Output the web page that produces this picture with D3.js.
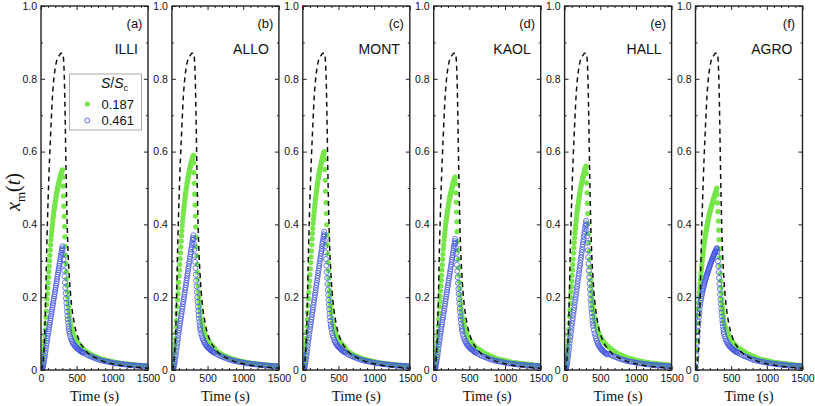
<!DOCTYPE html>
<html><head><meta charset="utf-8">
<script src="https://cdn.jsdelivr.net/npm/d3@7"></script>
<style>body{margin:0;background:#fff}</style>
</head><body><svg id="chart" width="815" height="406"></svg>
<script>
// ---------- DATA ----------
const panelLabels = ["(a)","(b)","(c)","(d)","(e)","(f)"];
const materials = ["ILLI","ALLO","MONT","KAOL","HALL","AGRO"];
const legendLabels = ["0.187","0.461"];
const yTicks = [0,0.2,0.4,0.6,0.8,1.0];
const yTickLabels = ["0","0.2","0.4","0.6","0.8","1.0"];
const yMinorTicks = [0.1,0.3,0.5,0.7,0.9];
const xTicks = [0,500,1000,1500];
const xTickLabels = ["0","500","1000","1500"];
const xMinorTicks = [100,200,300,400,600,700,800,900,1100,1200,1300,1400];

const timeS = [0,5,10,15,20,25,30,35,40,45,50,55,60,65,70,75,80,85,90,95,
100,105,110,115,120,125,130,135,140,145,150,155,160,165,170,175,180,185,190,195,
200,205,210,215,220,225,230,235,240,245,250,255,260,265,270,275,280,285,290,295,
300,305,310,315,320,325,330,335,340,345,350,355,360,365,370,375,380,385,390,395,
400,410,420,430,440,450,460,470,480,490,500,510,520,530,540,550,560,570,580,590,600,
625,650,675,700,725,750,775,800,825,850,875,900,925,950,975,1000,1025,1050,1075,1100,
1125,1150,1175,1200,1225,1250,1275,1300,1325,1350,1375,1400,1425,1450,1475,1500];

// dashed reference curve (same in every panel)
const dashTime = [0,20,40,60,80,100,120,140,160,180,200,220,240,260,280,300,310,320,330,340,350,360,370,380,390,400,420,440,460,480,500,550,600,650,700,800,900,1000,1100,1200,1300,1400,1500];
const dashValue = [0,0.01,0.05,0.15,0.33,0.47,0.58,0.67,0.75,0.80,0.83,0.85,0.86,0.865,0.87,0.87,0.865,0.84,0.78,0.68,0.56,0.46,0.38,0.32,0.28,0.245,0.195,0.16,0.135,0.115,0.10,0.075,0.06,0.048,0.04,0.03,0.022,0.017,0.013,0.01,0.008,0.006,0.005];

// S/Sc = 0.187 (filled green)
const greenILLI = [0.000,0.001,0.004,0.007,0.012,0.020,0.030,0.042,0.055,0.067,0.080,0.095,0.110,0.127,0.145,0.162,0.180,0.195,0.210,0.225,
0.240,0.255,0.270,0.285,0.300,0.315,0.330,0.344,0.357,0.369,0.380,0.390,0.400,0.409,0.418,0.426,0.434,0.441,0.448,0.455,
0.462,0.468,0.474,0.480,0.486,0.491,0.496,0.501,0.505,0.510,0.514,0.518,0.522,0.526,0.530,0.534,0.537,0.541,0.544,0.547,0.550,
0.530,0.505,0.478,0.450,0.422,0.394,0.366,0.340,0.315,0.292,0.270,0.250,0.232,0.215,0.200,0.187,0.175,0.164,0.154,0.145,
0.134,0.124,0.115,0.107,0.100,0.095,0.090,0.086,0.083,0.080,0.077,0.074,0.071,0.068,0.066,0.064,0.062,0.060,0.058,0.056,
0.052,0.049,0.046,0.043,0.040,0.038,0.036,0.034,0.032,0.030,0.029,0.027,0.026,0.025,0.024,0.023,0.022,0.021,0.020,0.019,
0.018,0.018,0.017,0.016,0.016,0.015,0.015,0.014,0.014,0.013,0.013,0.012,0.012,0.012,0.011,0.011];
const greenALLO = [0.000,0.001,0.004,0.008,0.013,0.021,0.032,0.045,0.059,0.072,0.086,0.102,0.118,0.136,0.156,0.174,0.193,0.209,0.225,0.241,
0.258,0.274,0.290,0.306,0.322,0.338,0.354,0.369,0.383,0.396,0.408,0.418,0.429,0.439,0.449,0.457,0.466,0.473,0.481,0.488,
0.496,0.502,0.509,0.515,0.521,0.527,0.532,0.538,0.542,0.547,0.552,0.556,0.560,0.564,0.569,0.573,0.576,0.580,0.584,0.587,0.590,
0.569,0.542,0.513,0.483,0.453,0.423,0.393,0.365,0.338,0.313,0.290,0.268,0.249,0.231,0.215,0.201,0.188,0.176,0.165,0.156,
0.141,0.130,0.121,0.112,0.105,0.100,0.095,0.090,0.087,0.084,0.081,0.078,0.075,0.071,0.069,0.067,0.065,0.063,0.061,0.059,
0.052,0.049,0.046,0.043,0.040,0.038,0.036,0.034,0.032,0.030,0.029,0.027,0.026,0.025,0.024,0.023,0.022,0.021,0.020,0.019,
0.018,0.018,0.017,0.016,0.016,0.015,0.015,0.014,0.014,0.013,0.013,0.012,0.012,0.012,0.011,0.011];
const greenMONT = [0.000,0.001,0.004,0.008,0.013,0.022,0.033,0.046,0.060,0.073,0.087,0.104,0.120,0.139,0.158,0.177,0.196,0.213,0.229,0.245,
0.262,0.278,0.295,0.311,0.327,0.344,0.360,0.375,0.389,0.403,0.415,0.425,0.436,0.446,0.456,0.465,0.473,0.481,0.489,0.496,
0.504,0.511,0.517,0.524,0.530,0.536,0.541,0.547,0.551,0.556,0.561,0.565,0.570,0.574,0.578,0.583,0.586,0.590,0.593,0.597,0.600,
0.578,0.551,0.521,0.491,0.460,0.430,0.399,0.371,0.344,0.319,0.295,0.273,0.253,0.235,0.218,0.204,0.191,0.179,0.168,0.158,
0.142,0.131,0.122,0.113,0.106,0.101,0.095,0.091,0.088,0.085,0.082,0.078,0.075,0.072,0.070,0.068,0.066,0.064,0.061,0.059,
0.052,0.049,0.046,0.043,0.040,0.038,0.036,0.034,0.032,0.030,0.029,0.027,0.026,0.025,0.024,0.023,0.022,0.021,0.020,0.019,
0.018,0.018,0.017,0.016,0.016,0.015,0.015,0.014,0.014,0.013,0.013,0.012,0.012,0.012,0.011,0.011];
const greenKAOL = [0.000,0.001,0.004,0.007,0.012,0.019,0.029,0.040,0.053,0.065,0.077,0.092,0.106,0.122,0.140,0.156,0.174,0.188,0.202,0.217,
0.231,0.246,0.260,0.275,0.289,0.304,0.318,0.332,0.344,0.356,0.366,0.376,0.386,0.394,0.403,0.411,0.418,0.425,0.432,0.439,
0.445,0.451,0.457,0.463,0.469,0.473,0.478,0.483,0.487,0.492,0.496,0.499,0.503,0.507,0.511,0.515,0.518,0.522,0.524,0.527,0.530,
0.511,0.487,0.461,0.434,0.407,0.380,0.353,0.328,0.304,0.281,0.260,0.241,0.224,0.207,0.193,0.180,0.169,0.158,0.148,0.140,
0.141,0.130,0.121,0.112,0.105,0.100,0.095,0.090,0.087,0.084,0.081,0.078,0.075,0.071,0.069,0.067,0.065,0.063,0.061,0.059,
0.058,0.055,0.052,0.048,0.045,0.043,0.040,0.038,0.036,0.034,0.032,0.030,0.029,0.028,0.027,0.026,0.025,0.024,0.022,0.021,
0.020,0.020,0.019,0.018,0.018,0.017,0.017,0.016,0.016,0.015,0.015,0.013,0.013,0.013,0.012,0.012];
const greenHALL = [0.000,0.001,0.004,0.007,0.012,0.020,0.031,0.043,0.056,0.068,0.081,0.097,0.112,0.129,0.148,0.165,0.183,0.199,0.214,0.229,
0.244,0.260,0.275,0.290,0.305,0.321,0.336,0.350,0.363,0.376,0.387,0.397,0.407,0.416,0.426,0.434,0.442,0.449,0.456,0.463,
0.470,0.476,0.483,0.489,0.495,0.500,0.505,0.510,0.514,0.519,0.523,0.527,0.531,0.535,0.540,0.544,0.547,0.551,0.554,0.557,0.560,
0.540,0.514,0.487,0.458,0.430,0.402,0.375,0.350,0.326,0.304,0.283,0.264,0.247,0.231,0.217,0.204,0.192,0.181,0.171,0.162,
0.150,0.140,0.131,0.123,0.116,0.110,0.105,0.100,0.096,0.092,0.088,0.085,0.082,0.079,0.076,0.074,0.072,0.070,0.068,0.066,
0.062,0.058,0.054,0.051,0.048,0.045,0.042,0.040,0.038,0.036,0.034,0.032,0.031,0.030,0.028,0.027,0.026,0.025,0.024,0.023,
0.022,0.021,0.020,0.019,0.019,0.018,0.018,0.017,0.017,0.016,0.015,0.015,0.014,0.014,0.013,0.013];
const greenAGRO = [0.000,0.010,0.030,0.055,0.080,0.105,0.128,0.150,0.168,0.185,0.200,0.213,0.225,0.237,0.248,0.259,0.270,0.280,0.290,0.300,
0.309,0.318,0.327,0.335,0.343,0.350,0.357,0.364,0.371,0.377,0.383,0.389,0.395,0.400,0.405,0.410,0.415,0.420,0.424,0.428,
0.432,0.436,0.440,0.444,0.448,0.451,0.455,0.458,0.462,0.465,0.468,0.471,0.474,0.477,0.480,0.483,0.486,0.489,0.492,0.496,0.500,
0.482,0.459,0.435,0.409,0.384,0.358,0.333,0.309,0.286,0.265,0.245,0.227,0.211,0.195,0.182,0.170,0.159,0.149,0.140,0.132,
0.125,0.118,0.112,0.106,0.101,0.097,0.093,0.089,0.086,0.083,0.080,0.077,0.074,0.071,0.069,0.067,0.065,0.063,0.061,0.059,
0.058,0.055,0.052,0.048,0.045,0.043,0.040,0.038,0.036,0.034,0.032,0.030,0.029,0.028,0.027,0.026,0.025,0.024,0.022,0.021,
0.020,0.020,0.019,0.018,0.018,0.017,0.017,0.016,0.016,0.015,0.015,0.013,0.013,0.013,0.012,0.012];

// S/Sc = 0.461 (open blue)
const blueILLI = [0.000,0.000,0.001,0.002,0.004,0.007,0.011,0.016,0.021,0.027,0.033,0.039,0.046,0.053,0.060,0.067,0.074,0.080,0.087,0.094,
0.100,0.106,0.112,0.118,0.124,0.130,0.136,0.142,0.148,0.154,0.160,0.166,0.172,0.178,0.184,0.190,0.196,0.202,0.208,0.214,
0.220,0.226,0.232,0.238,0.244,0.250,0.256,0.262,0.268,0.274,0.280,0.286,0.292,0.298,0.304,0.310,0.316,0.322,0.328,0.334,0.340,
0.330,0.318,0.304,0.289,0.273,0.257,0.241,0.226,0.211,0.197,0.184,0.172,0.160,0.149,0.139,0.130,0.121,0.113,0.106,0.100,
0.092,0.086,0.081,0.077,0.073,0.070,0.067,0.065,0.063,0.061,0.059,0.057,0.056,0.054,0.053,0.051,0.050,0.049,0.048,0.047,
0.044,0.041,0.039,0.037,0.035,0.033,0.031,0.029,0.028,0.026,0.025,0.024,0.023,0.022,0.021,0.020,0.019,0.018,0.018,0.017,
0.016,0.016,0.015,0.015,0.014,0.014,0.013,0.013,0.012,0.012,0.012,0.011,0.011,0.011,0.010,0.010];
const blueALLO = [0.000,0.000,0.001,0.002,0.004,0.008,0.012,0.017,0.023,0.029,0.036,0.042,0.050,0.058,0.065,0.073,0.081,0.087,0.095,0.102,
0.109,0.115,0.122,0.128,0.135,0.141,0.148,0.154,0.161,0.168,0.174,0.181,0.187,0.194,0.200,0.207,0.213,0.220,0.226,0.233,
0.239,0.246,0.252,0.259,0.265,0.272,0.279,0.285,0.292,0.298,0.305,0.311,0.318,0.324,0.331,0.337,0.344,0.350,0.357,0.363,0.370,
0.359,0.346,0.331,0.314,0.297,0.280,0.262,0.246,0.230,0.214,0.200,0.187,0.174,0.162,0.151,0.141,0.132,0.123,0.115,0.109,
0.100,0.093,0.087,0.082,0.077,0.074,0.070,0.068,0.065,0.063,0.061,0.059,0.057,0.055,0.054,0.052,0.051,0.049,0.048,0.047,
0.044,0.041,0.039,0.037,0.035,0.033,0.031,0.029,0.028,0.026,0.025,0.024,0.023,0.022,0.021,0.020,0.019,0.018,0.018,0.017,
0.016,0.016,0.015,0.015,0.014,0.014,0.013,0.013,0.012,0.012,0.012,0.011,0.011,0.011,0.010,0.010];
const blueMONT = [0.000,0.000,0.001,0.002,0.004,0.008,0.012,0.018,0.023,0.030,0.037,0.044,0.051,0.059,0.067,0.075,0.083,0.089,0.097,0.105,
0.112,0.119,0.125,0.132,0.139,0.145,0.152,0.159,0.165,0.172,0.179,0.186,0.192,0.199,0.206,0.212,0.219,0.226,0.233,0.239,
0.246,0.253,0.259,0.266,0.273,0.280,0.286,0.293,0.300,0.306,0.313,0.320,0.326,0.333,0.340,0.347,0.353,0.360,0.367,0.373,0.380,
0.369,0.356,0.340,0.323,0.305,0.287,0.269,0.253,0.236,0.220,0.206,0.192,0.179,0.167,0.155,0.145,0.135,0.126,0.119,0.112,
0.102,0.095,0.089,0.083,0.078,0.075,0.071,0.068,0.066,0.064,0.062,0.060,0.058,0.056,0.054,0.053,0.051,0.050,0.049,0.048,
0.044,0.041,0.039,0.037,0.035,0.033,0.031,0.029,0.028,0.026,0.025,0.024,0.023,0.022,0.021,0.020,0.019,0.018,0.018,0.017,
0.016,0.016,0.015,0.015,0.014,0.014,0.013,0.013,0.012,0.012,0.012,0.011,0.011,0.011,0.010,0.010];
const blueKAOL = [0.000,0.000,0.001,0.002,0.004,0.007,0.012,0.017,0.022,0.029,0.035,0.041,0.049,0.056,0.064,0.071,0.078,0.085,0.092,0.100,
0.106,0.112,0.119,0.125,0.131,0.138,0.144,0.150,0.157,0.163,0.169,0.176,0.182,0.189,0.195,0.201,0.208,0.214,0.220,0.227,
0.233,0.239,0.246,0.252,0.258,0.265,0.271,0.277,0.284,0.290,0.297,0.303,0.309,0.316,0.322,0.328,0.335,0.341,0.347,0.354,0.360,
0.349,0.337,0.322,0.306,0.289,0.272,0.255,0.239,0.223,0.209,0.195,0.182,0.169,0.158,0.147,0.138,0.128,0.120,0.112,0.106,
0.097,0.090,0.085,0.080,0.076,0.072,0.069,0.067,0.065,0.062,0.060,0.058,0.057,0.055,0.054,0.052,0.051,0.049,0.048,0.047,
0.044,0.041,0.039,0.037,0.035,0.033,0.031,0.029,0.028,0.026,0.025,0.024,0.023,0.022,0.021,0.020,0.019,0.018,0.018,0.017,
0.016,0.016,0.015,0.015,0.014,0.014,0.013,0.013,0.012,0.012,0.012,0.011,0.011,0.011,0.010,0.010];
const blueHALL = [0.000,0.000,0.001,0.002,0.005,0.008,0.013,0.019,0.025,0.033,0.040,0.047,0.055,0.064,0.072,0.081,0.089,0.096,0.105,0.113,
0.121,0.128,0.135,0.142,0.150,0.157,0.164,0.171,0.178,0.186,0.193,0.200,0.207,0.215,0.222,0.229,0.236,0.244,0.251,0.258,
0.265,0.273,0.280,0.287,0.294,0.302,0.309,0.316,0.323,0.330,0.338,0.345,0.352,0.359,0.367,0.374,0.381,0.388,0.396,0.403,0.410,
0.398,0.384,0.367,0.349,0.329,0.310,0.291,0.273,0.254,0.238,0.222,0.207,0.193,0.180,0.168,0.157,0.146,0.136,0.128,0.121,
0.110,0.101,0.093,0.086,0.080,0.075,0.071,0.067,0.064,0.061,0.058,0.056,0.054,0.052,0.050,0.048,0.047,0.045,0.044,0.043,
0.044,0.041,0.039,0.037,0.035,0.033,0.031,0.029,0.028,0.026,0.025,0.024,0.023,0.022,0.021,0.020,0.019,0.018,0.018,0.017,
0.016,0.016,0.015,0.015,0.014,0.014,0.013,0.013,0.012,0.012,0.012,0.011,0.011,0.011,0.010,0.010];
const blueAGRO = [0.000,0.008,0.022,0.040,0.058,0.075,0.092,0.107,0.121,0.134,0.146,0.157,0.167,0.176,0.184,0.191,0.197,0.203,0.208,0.213,
0.218,0.222,0.226,0.230,0.234,0.238,0.242,0.245,0.249,0.252,0.256,0.259,0.262,0.265,0.268,0.271,0.274,0.277,0.280,0.283,
0.286,0.289,0.292,0.294,0.297,0.300,0.302,0.305,0.307,0.310,0.312,0.315,0.317,0.319,0.322,0.324,0.326,0.328,0.331,0.333,0.335,
0.325,0.313,0.299,0.285,0.269,0.253,0.237,0.223,0.208,0.194,0.181,0.169,0.158,0.147,0.137,0.128,0.119,0.111,0.104,0.099,
0.092,0.086,0.081,0.077,0.073,0.070,0.067,0.065,0.063,0.061,0.059,0.057,0.056,0.054,0.053,0.051,0.050,0.049,0.048,0.047,
0.044,0.041,0.039,0.037,0.035,0.033,0.031,0.029,0.028,0.026,0.025,0.024,0.023,0.022,0.021,0.020,0.019,0.018,0.018,0.017,
0.016,0.016,0.015,0.015,0.014,0.014,0.013,0.013,0.012,0.012,0.012,0.011,0.011,0.011,0.010,0.010];

const greenSeries = [greenILLI, greenALLO, greenMONT, greenKAOL, greenHALL, greenAGRO];
const blueSeries  = [blueILLI, blueALLO, blueMONT, blueKAOL, blueHALL, blueAGRO];

// ---------- DRAWING ----------
const greenColor = "#76e649";
const blueColor = "#4456e2";
const axisColor = "#222";
const tickFont = "'Liberation Sans', Arial, sans-serif";
const serifFont = "'Liberation Serif', 'Times New Roman', Times, serif";

const svg = d3.select("#chart");
const defs = svg.append("defs");
const plotTop = 6, plotBottom = 370, firstLeft = 41, panelStep = 130.9, panelWidth = 107;
const yScale = d3.scaleLinear().domain([0, 1]).range([plotBottom, plotTop]);

function styleAxis(sel) {
  sel.select(".domain").remove();
  sel.attr("color", axisColor).attr("font-family", tickFont).attr("font-size", 10.5);
  sel.selectAll(".tick line").attr("stroke-width", 1);
  sel.selectAll(".tick text").attr("fill", "#111");
}

materials.forEach((mat, i) => {
  const x0 = firstLeft + i * panelStep;
  const xScale = d3.scaleLinear().domain([0, 1500]).range([x0, x0 + panelWidth]);
  const g = svg.append("g").attr("class", "panel");

  defs.append("clipPath").attr("id", "clip" + i)
    .append("rect").attr("x", x0).attr("y", plotTop).attr("width", panelWidth).attr("height", plotBottom - plotTop);

  const plot = g.append("g").attr("clip-path", `url(#clip${i})`);

  const gPts = timeS.map((t, j) => ({ t, v: greenSeries[i][j] })).filter(d => d.v !== undefined);
  const bPts = timeS.map((t, j) => ({ t, v: blueSeries[i][j] })).filter(d => d.v !== undefined);

  plot.append("g").selectAll("circle").data(gPts).join("circle")
    .attr("cx", d => xScale(d.t)).attr("cy", d => yScale(d.v)).attr("r", 2.6)
    .attr("fill", greenColor);

  plot.append("g").selectAll("circle").data(bPts).join("circle")
    .attr("cx", d => xScale(d.t)).attr("cy", d => yScale(d.v)).attr("r", 2.5)
    .attr("fill", "none").attr("stroke", blueColor).attr("stroke-width", 0.9).attr("stroke-opacity", 0.85);

  const line = d3.line()
    .x((d, j) => xScale(dashTime[j])).y(d => yScale(d))
    .curve(d3.curveMonotoneX);
  plot.append("path").datum(dashValue).attr("d", line)
    .attr("fill", "none").attr("stroke", "#111").attr("stroke-width", 1.5)
    .attr("stroke-dasharray", "5,4");

  // axes (inward ticks on all four sides)
  g.append("g").attr("transform", `translate(${x0},0)`)
    .call(d3.axisLeft(yScale).tickValues(yTicks).tickFormat((d, k) => yTickLabels[k]).tickSizeInner(-4).tickSizeOuter(0).tickPadding(4))
    .call(styleAxis);
  g.append("g").attr("transform", `translate(${x0},0)`)
    .call(d3.axisLeft(yScale).tickValues(yMinorTicks).tickFormat("").tickSizeInner(-2).tickSizeOuter(0))
    .call(styleAxis);
  g.append("g").attr("transform", `translate(${x0 + panelWidth},0)`)
    .call(d3.axisRight(yScale).tickValues(yTicks).tickFormat("").tickSizeInner(-4).tickSizeOuter(0))
    .call(styleAxis);
  g.append("g").attr("transform", `translate(${x0 + panelWidth},0)`)
    .call(d3.axisRight(yScale).tickValues(yMinorTicks).tickFormat("").tickSizeInner(-2).tickSizeOuter(0))
    .call(styleAxis);
  g.append("g").attr("transform", `translate(0,${plotBottom})`)
    .call(d3.axisBottom(xScale).tickValues(xTicks).tickFormat((d, k) => xTickLabels[k]).tickSizeInner(-4).tickSizeOuter(0).tickPadding(5))
    .call(styleAxis);
  g.append("g").attr("transform", `translate(0,${plotBottom})`)
    .call(d3.axisBottom(xScale).tickValues(xMinorTicks).tickFormat("").tickSizeInner(-2).tickSizeOuter(0))
    .call(styleAxis);
  g.append("g").attr("transform", `translate(0,${plotTop})`)
    .call(d3.axisTop(xScale).tickValues(xTicks).tickFormat("").tickSizeInner(-4).tickSizeOuter(0))
    .call(styleAxis);
  g.append("g").attr("transform", `translate(0,${plotTop})`)
    .call(d3.axisTop(xScale).tickValues(xMinorTicks).tickFormat("").tickSizeInner(-2).tickSizeOuter(0))
    .call(styleAxis);

  g.append("rect").attr("x", x0).attr("y", plotTop).attr("width", panelWidth).attr("height", plotBottom - plotTop)
    .attr("fill", "none").attr("stroke", axisColor).attr("stroke-width", 1.4);

  g.append("text").attr("x", x0 + panelWidth - 13.5).attr("y", 28).attr("text-anchor", "middle")
    .attr("font-family", tickFont).attr("font-size", 13).attr("fill", "#111").text(panelLabels[i]);
  g.append("text").attr("x", x0 + panelWidth - 10).attr("y", 54).attr("text-anchor", "end")
    .attr("font-family", tickFont).attr("font-size", 14).attr("fill", "#111").text(mat);

  g.append("text").attr("x", x0 + panelWidth / 2).attr("y", 401).attr("text-anchor", "middle")
    .attr("font-family", serifFont).attr("font-weight", "normal").attr("font-size", 14.5).attr("fill", "#111").text("Time (s)");
});

// y-axis title x_m(t)
const yt = svg.append("text").attr("transform", "translate(20,192) rotate(-90)")
  .attr("text-anchor", "middle").attr("font-family", serifFont).attr("font-weight", "normal").attr("font-size", 20).attr("fill", "#111");
yt.append("tspan").attr("font-style", "italic").text("x");
yt.append("tspan").attr("font-size", 13).attr("dy", 5).text("m");
yt.append("tspan").attr("dy", -5).text("(");
yt.append("tspan").attr("font-style", "italic").text("t");
yt.append("tspan").text(")");

// legend (panel a)
const lg = svg.append("g").attr("class", "legend");
lg.append("rect").attr("x", 69.5).attr("y", 74).attr("width", 72).attr("height", 56)
  .attr("fill", "#fff").attr("stroke", "#aaa").attr("stroke-width", 1);
const lt = lg.append("text").attr("x", 101).attr("y", 88).attr("font-family", tickFont).attr("font-size", 14).attr("fill", "#111");
lt.append("tspan").attr("font-style", "italic").text("S");
lt.append("tspan").text("/");
lt.append("tspan").attr("font-style", "italic").text("S");
lt.append("tspan").attr("font-size", 9).attr("dy", 3).text("c");
lg.append("circle").attr("cx", 87.3).attr("cy", 104).attr("r", 2.6).attr("fill", greenColor);
lg.append("text").attr("x", 101.5).attr("y", 108.5).attr("font-family", tickFont).attr("font-size", 13).attr("fill", "#111").text(legendLabels[0]);
lg.append("circle").attr("cx", 87.3).attr("cy", 120.5).attr("r", 2.5).attr("fill", "none").attr("stroke", blueColor).attr("stroke-width", 0.9);
lg.append("text").attr("x", 101.5).attr("y", 125).attr("font-family", tickFont).attr("font-size", 13).attr("fill", "#111").text(legendLabels[1]);
</script>
</body></html>
